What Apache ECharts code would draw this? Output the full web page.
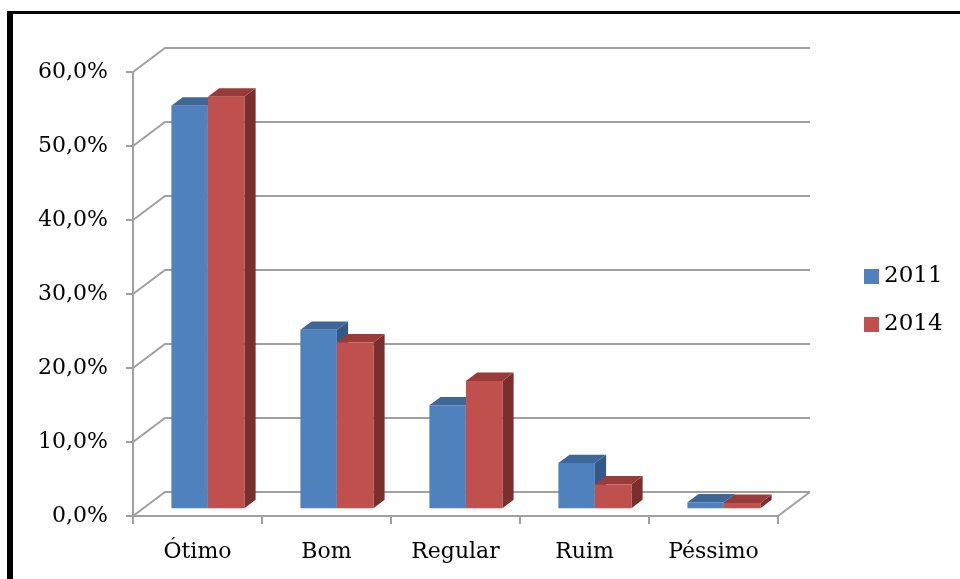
<!DOCTYPE html>
<html>
<head>
<meta charset="utf-8">
<script src="https://cdn.jsdelivr.net/npm/echarts@6.0.0/dist/echarts.min.js"></script>
<style>
  html, body { margin: 0; padding: 0; background: #fff; }
  #chart { width: 960px; height: 579px; }
</style>
</head>
<body>
<div id="chart"></div>
<script>
// Survey ratings, share of answers per year
const categories = ['Ótimo', 'Bom', 'Regular', 'Ruim', 'Péssimo'];
const values2011 = [54.4, 24.1, 13.9, 6.1, 0.8];
const values2014 = [55.6, 22.4, 17.2, 3.2, 0.7];
const seriesNames = ['2011', '2014'];
const yTicks = [0, 10, 20, 30, 40, 50, 60];

// Perspective depth of the chart box (pixels of back-wall offset)
const DEPTH_X = 32;
const DEPTH_Y = 24;
// Bars occupy the middle slice of the depth
const BAR_FRONT = 0.325;
const BAR_DEPTH = 0.35;
const BAR_WIDTH_RATIO = 0.283;

const GRID_COLOR = '#A0A0A0';
const FONT = 'DejaVu Serif';

const palette = {
  '2011': { front: '#4F81BD', top: '#3E6797', side: '#345887' },
  '2014': { front: '#C0504D', top: '#983B39', side: '#7B2F2D' }
};

function formatPct(v) {
  return v.toFixed(1).replace('.', ',') + '%';
}

// Back wall, side wall and floor lines
function renderWalls(params, api) {
  const v = api.value(1);
  const y = api.coord([0, v])[1];
  const cs = params.coordSys;
  const x0 = cs.x;
  const x1 = cs.x + cs.width;
  const style = { stroke: GRID_COLOR, lineWidth: 2, fill: null };
  const children = [{
    type: 'polyline',
    shape: { points: [[x0, y], [x0 + DEPTH_X, y - DEPTH_Y], [x1 + DEPTH_X, y - DEPTH_Y]] },
    style: style
  }];
  if (v === 0) {
    children.push({
      type: 'line',
      shape: { x1: x1, y1: y, x2: x1 + DEPTH_X, y2: y - DEPTH_Y },
      style: style
    });
  }
  return { type: 'group', children: children };
}

// 3D-looking bar: front face, top face, right side face
function makeBarRenderer(slot, colors) {
  return function (params, api) {
    const idx = api.value(0);
    const val = api.value(1);
    const top = api.coord([idx, val]);
    const base = api.coord([idx, 0]);
    const band = api.size([1, 0])[0];
    const w = band * BAR_WIDTH_RATIO;
    const fx = DEPTH_X * BAR_FRONT, fy = DEPTH_Y * BAR_FRONT;
    const bx = DEPTH_X * BAR_DEPTH, by = DEPTH_Y * BAR_DEPTH;
    const xL = top[0] + fx + (slot === 0 ? -w : 0);
    const xR = xL + w;
    const yT = top[1] - fy;
    const yB = base[1] - fy;
    return {
      type: 'group',
      children: [
        {
          type: 'polygon',
          shape: { points: [[xR, yT], [xR + bx, yT - by], [xR + bx, yB - by], [xR, yB]] },
          style: { fill: colors.side }
        },
        {
          type: 'polygon',
          shape: { points: [[xL, yT], [xL + bx, yT - by], [xR + bx, yT - by], [xR, yT]] },
          style: { fill: colors.top }
        },
        {
          type: 'rect',
          shape: { x: xL, y: yT, width: w, height: yB - yT },
          style: { fill: colors.front }
        }
      ]
    };
  };
}

const chart = echarts.init(document.getElementById('chart'), null, { renderer: 'canvas' });

const option = {
  backgroundColor: '#ffffff',
  animation: false,
  grid: { left: 133, right: 182, top: 72, bottom: 63 },
  legend: {
    data: seriesNames,
    orient: 'vertical',
    left: 859,
    top: 260,
    icon: 'rect',
    itemWidth: 15,
    itemHeight: 15,
    itemGap: 25,
    selectedMode: false,
    textStyle: { fontFamily: FONT, fontSize: 23, color: '#000' }
  },
  xAxis: {
    type: 'category',
    data: categories,
    boundaryGap: true,
    axisLine: { show: true, lineStyle: { color: GRID_COLOR, width: 2 } },
    axisTick: { show: true, length: 8, lineStyle: { color: GRID_COLOR, width: 2 } },
    axisLabel: { fontFamily: FONT, fontSize: 22, color: '#000', margin: 25 },
    splitLine: { show: false }
  },
  yAxis: {
    type: 'value',
    min: 0,
    max: 60,
    interval: 10,
    axisLine: { show: true, lineStyle: { color: GRID_COLOR, width: 2 } },
    axisTick: { show: true, length: 7, lineStyle: { color: GRID_COLOR, width: 2 } },
    axisLabel: { fontFamily: FONT, fontSize: 22, color: '#000', margin: 25, formatter: formatPct },
    splitLine: { show: false }
  },
  series: [
    {
      name: 'walls',
      type: 'custom',
      silent: true,
      z: 1,
      renderItem: renderWalls,
      data: yTicks.map(v => [0, v]),
      encode: { x: 0, y: 1 }
    },
    {
      name: seriesNames[0],
      type: 'custom',
      z: 3,
      itemStyle: { color: palette['2011'].front },
      renderItem: makeBarRenderer(0, palette['2011']),
      data: values2011.map((v, i) => [i, v]),
      encode: { x: 0, y: 1 }
    },
    {
      name: seriesNames[1],
      type: 'custom',
      z: 4,
      itemStyle: { color: palette['2014'].front },
      renderItem: makeBarRenderer(1, palette['2014']),
      data: values2014.map((v, i) => [i, v]),
      encode: { x: 0, y: 1 }
    }
  ],
  graphic: [
    { type: 'rect', silent: true, shape: { x: 7, y: 11, width: 6, height: 600 }, style: { fill: '#000' } },
    { type: 'rect', silent: true, shape: { x: 7, y: 11, width: 960, height: 3 }, style: { fill: '#000' } }
  ]
};

chart.setOption(option);
</script>
</body>
</html>
